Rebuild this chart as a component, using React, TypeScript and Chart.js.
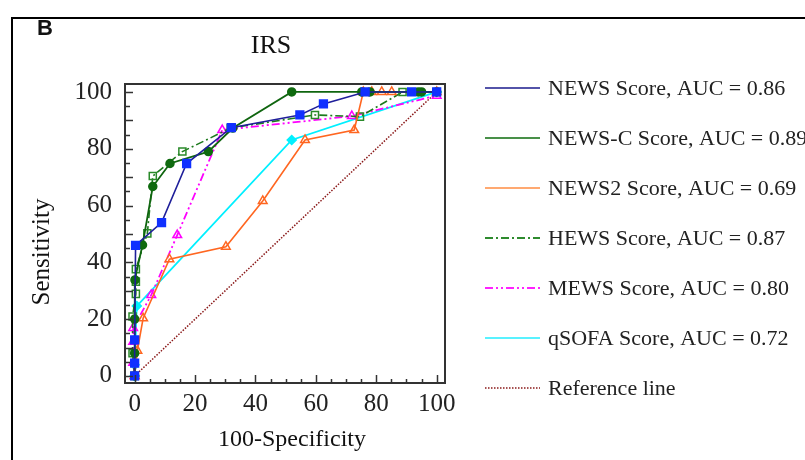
import React, { useEffect, useRef } from "react";
import { Chart, registerables } from "chart.js";
Chart.register(...registerables);

const panelLetter = "B";
const chartTitle = "IRS";
const xTitle = "100-Specificity";
const yTitle = "Sensitivity";
const tickValues = [0, 5, 10, 15, 20, 25, 30, 35, 40, 45, 50, 55, 60, 65, 70, 75, 80, 85, 90, 95, 100];
const tickLabels = ["0", "20", "40", "60", "80", "100"];

const seriesLabels = [
  "NEWS Score, AUC = 0.86",
  "NEWS-C Score, AUC = 0.89",
  "NEWS2 Score, AUC = 0.69",
  "HEWS Score, AUC = 0.87",
  "MEWS Score, AUC = 0.80",
  "qSOFA Score, AUC = 0.72",
  "Reference line",
];

const newsX = [0, 0, 0, 0.3, 8.9, 17.2, 32, 54.7, 62.5, 76.3, 91.7, 100];
const newsY = [0, 4.5, 12.7, 46, 54, 74.8, 87.4, 91.9, 95.8, 100, 100, 100];

const newsCX = [0, 0, 0, 0.1, 2.6, 6, 11.7, 24.4, 32.5, 52, 75.2, 77.9, 93.9, 95, 100];
const newsCY = [0, 8, 20, 33.8, 46.1, 66.7, 74.8, 79, 87.3, 100, 100, 100, 100, 100, 100];

const news2X = [0, 0.9, 2.8, 11.5, 30.2, 42.4, 56.4, 72.7, 75.7, 78.5, 81.8, 85.1, 100];
const news2Y = [0, 8.9, 20.3, 41.1, 45.5, 61.6, 83.1, 86.6, 100, 100, 100, 100, 100];

const hewsX = [0, -0.7, -0.7, 0.4, 0.4, 0.4, 4.2, 6, 15.8, 31.8, 59.7, 74.6, 88.7, 100];
const hewsY = [0, 8, 20.9, 28.9, 33.2, 37.6, 50.2, 70.4, 79, 87.3, 91.9, 91.3, 100, 100];

const mewsX = [0, -0.5, -0.5, -0.5, 5.5, 14.1, 29, 71.9, 100];
const mewsY = [0, 4.6, 12, 16.9, 28.5, 49.6, 86.6, 91.5, 98.7];

const qsofaX = [0, 0, 0.7, 52, 100];
const qsofaY = [0, 3.9, 24.6, 83.1, 100];

const refX = [0, 100];
const refY = [0, 100];

const pts = (xs: number[], ys: number[]) => xs.map((x, i) => ({ x, y: ys[i] }));

const SERIF = "'Liberation Serif', 'Times New Roman', serif";

const decor = {
  id: "decor",
  beforeDraw(chart: any) {
    const { ctx } = chart;
    ctx.save();
    ctx.fillStyle = "#fff";
    ctx.fillRect(0, 0, chart.width, chart.height);
    ctx.restore();
  },
  afterDraw(chart: any) {
    const { ctx, chartArea: a, scales } = chart;
    const xs = scales.x;
    const ys = scales.y;
    ctx.save();
    // outer frame
    ctx.strokeStyle = "#000";
    ctx.lineWidth = 2;
    ctx.strokeRect(12, 18, 1000, 1000);

    // plot box
    ctx.strokeStyle = "#333";
    ctx.lineWidth = 2;
    ctx.strokeRect(a.left, a.top, a.right - a.left, a.bottom - a.top);

    // ticks
    ctx.lineWidth = 1.5;
    ctx.strokeStyle = "#333";
    tickValues.forEach((v) => {
      const px = Math.round(xs.getPixelForValue(v)) + 0.5;
      const lx = v % 20 === 0 ? 8 : 4;
      ctx.beginPath();
      ctx.moveTo(px, a.bottom);
      ctx.lineTo(px, a.bottom - lx);
      ctx.stroke();
      const py = Math.round(ys.getPixelForValue(v)) + 0.5;
      const ly = v % 10 === 0 ? 8 : 5;
      ctx.beginPath();
      ctx.moveTo(a.left, py);
      ctx.lineTo(a.left + ly, py);
      ctx.stroke();
    });

    // texts
    ctx.fillStyle = "#111";
    ctx.textBaseline = "middle";
    ctx.textAlign = "left";
    ctx.font = "bold 22px 'Liberation Sans', Arial, sans-serif";
    ctx.fillText(panelLetter, 37, 29);

    ctx.textAlign = "center";
    ctx.font = `26px ${SERIF}`;
    ctx.fillText(chartTitle, 271, 46);

    ctx.font = `24px ${SERIF}`;
    ctx.fillText(xTitle, 292, 440);

    ctx.save();
    ctx.translate(42, 252);
    ctx.rotate(-Math.PI / 2);
    ctx.font = `25px ${SERIF}`;
    ctx.fillText(yTitle, 0, 0);
    ctx.restore();

    // legend
    const legendLineColors = ["#1a1a8c", "#0d6b0d", "#ff8c42", "#2e8b2e", "#ff22ff", "#22eeff", "#8b1a1a"];
    chart.data.datasets.forEach((ds: any, i: number) => {
      const y = 88 + i * 50;
      ctx.save();
      ctx.strokeStyle = legendLineColors[i];
      ctx.lineWidth = ds.borderDash && ds.borderDash.length ? 2 : 1.5;
      if (i === 6) ctx.lineWidth = 1.5;
      ctx.setLineDash(ds.borderDash || []);
      ctx.beginPath();
      ctx.moveTo(485, y);
      ctx.lineTo(540, y);
      ctx.stroke();
      ctx.restore();
      ctx.textAlign = "left";
      ctx.fillStyle = "#222";
      ctx.font = `22px ${SERIF}`;
      ctx.fillText(ds.label, 548, y + 1);
    });
    ctx.restore();
  },
};

export default function App() {
  const ref = useRef<HTMLCanvasElement | null>(null);
  useEffect(() => {
    if (!ref.current) return;
    const mk = (
      i: number,
      xs: number[],
      ys: number[],
      line: string,
      markerFill: string,
      markerStroke: string,
      style: any,
      radius: number,
      dash: number[],
      width: number
    ) => ({
      label: seriesLabels[i],
      data: pts(xs, ys),
      borderColor: line,
      backgroundColor: markerFill,
      pointBackgroundColor: markerFill,
      pointBorderColor: markerStroke,
      pointBorderWidth: 1.5,
      pointStyle: style,
      pointRadius: radius,
      borderWidth: width,
      borderDash: dash,
      tension: 0,
      fill: false,
    });
    const datasets: any[] = [
      mk(0, newsX, newsY, "#1f1f9a", "#1030ff", "#1030ff", "rect", 5.5, [], 1.6),
      mk(1, newsCX, newsCY, "#0f650f", "#0f6a0f", "#0f6a0f", "circle", 4, [], 1.8),
      mk(2, news2X, news2Y, "#ff6620", "rgba(255,255,255,0)", "#ff6620", "triangle", 5, [], 1.6),
      mk(3, hewsX, hewsY, "#1d7a1d", "rgba(255,255,255,0)", "#2a8a2a", "rect", 5, [8, 3, 2, 3], 1.6),
      mk(4, mewsX, mewsY, "#ff00ff", "rgba(255,255,255,0)", "#ff00ff", "triangle", 5, [8, 3, 2, 3, 2, 3], 1.8),
      mk(5, qsofaX, qsofaY, "#00f0ff", "#00f0ff", "#00f0ff", "rectRot", 4.5, [], 1.8),
      mk(6, refX, refY, "#8b1a1a", "#8b1a1a", "#8b1a1a", "circle", 0, [1.5, 1.5], 1.5),
    ];
    const chart = new Chart(ref.current, {
      type: "line",
      data: { datasets },
      plugins: [decor],
      options: {
        responsive: false,
        animation: false,
        devicePixelRatio: 1,
        layout: { padding: { left: 0, right: 360, top: 84, bottom: 0 } },
        plugins: { legend: { display: false }, tooltip: { enabled: false }, title: { display: false } },
        scales: {
          x: {
            type: "linear",
            min: -3.2,
            max: 102.75,
            grid: { display: false, drawTicks: false },
            border: { display: false },
            afterBuildTicks: (s: any) => {
              s.ticks = tickValues.map((v) => ({ value: v }));
            },
            afterFit: (s: any) => {
              s.height = 77;
            },
            ticks: {
              autoSkip: false,
              maxRotation: 0,
              padding: 6,
              color: "#222",
              font: { family: SERIF, size: 25 },
              callback: (v: any) => (tickLabels.includes(String(v)) ? String(v) : ""),
            },
          },
          y: {
            type: "linear",
            min: -2.5,
            max: 102.8,
            grid: { display: false, drawTicks: false },
            border: { display: false },
            afterBuildTicks: (s: any) => {
              s.ticks = tickValues.map((v) => ({ value: v }));
            },
            afterFit: (s: any) => {
              s.width = 125;
            },
            ticks: {
              autoSkip: false,
              padding: 13,
              color: "#222",
              font: { family: SERIF, size: 25 },
              callback: (v: any) => (tickLabels.includes(String(v)) ? String(v) : ""),
            },
          },
        },
      },
    });
    return () => chart.destroy();
  }, []);
  return (
    <div style={{ position: "absolute", left: 0, top: 0, width: 805, height: 460, overflow: "hidden", background: "#fff" }}>
      <canvas ref={ref} width={805} height={460} style={{ width: 805, height: 460, display: "block" }} />
    </div>
  );
}
